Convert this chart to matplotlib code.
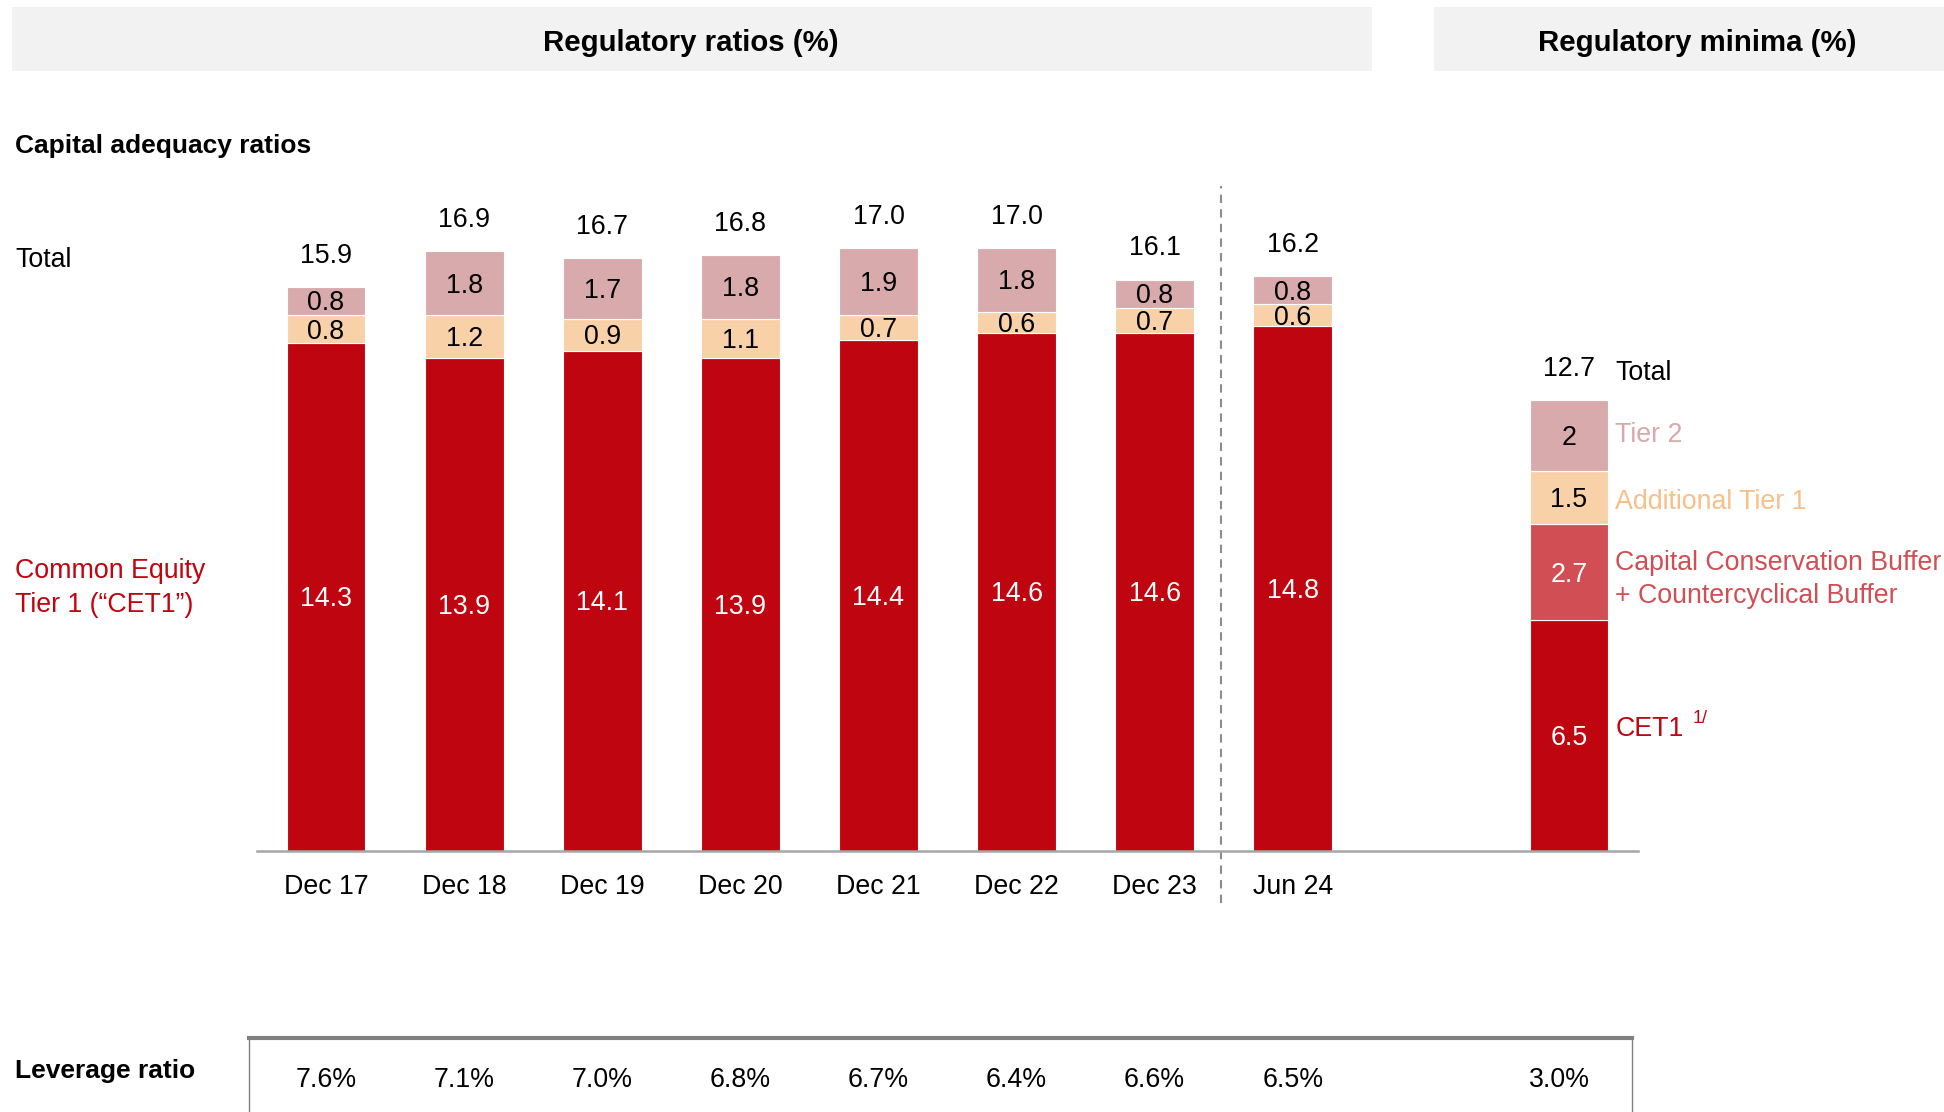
import matplotlib
matplotlib.use('Agg')
import matplotlib.pyplot as plt
from matplotlib.patches import Rectangle

plt.rcParams['font.family'] = ['Liberation Sans', 'DejaVu Sans']

# data
periods = ['Dec 17', 'Dec 18', 'Dec 19', 'Dec 20', 'Dec 21', 'Dec 22', 'Dec 23', 'Jun 24']
cet1 = [14.3, 13.9, 14.1, 13.9, 14.4, 14.6, 14.6, 14.8]
at1 = [0.8, 1.2, 0.9, 1.1, 0.7, 0.6, 0.7, 0.6]
tier2 = [0.8, 1.8, 1.7, 1.8, 1.9, 1.8, 0.8, 0.8]
totals = [15.9, 16.9, 16.7, 16.8, 17.0, 17.0, 16.1, 16.2]
leverage = [7.6, 7.1, 7.0, 6.8, 6.7, 6.4, 6.6, 6.5]

min_parts = ['CET1', 'Buffer', 'AT1', 'Tier 2']
min_values = [6.5, 2.7, 1.5, 2.0]
min_labels = ['6.5', '2.7', '1.5', '2']
min_total = 12.7
min_leverage = 3.0

RED = '#BF0510'
BUF = '#D14F54'
PEACH = '#F9D1A9'
PINK = '#D9AAAB'
W, H = 1944, 1112
FS = 19.3
DY = -0.07  # small nudge so text sits like the original


def fpos(x, y):
    return x / W, 1 - y / H


fig = plt.figure(figsize=(W / 100, H / 100), dpi=100)

# header bars
for x0, x1, title in [(12, 1372, 'Regulatory ratios (%)'),
                      (1434, 1944, 'Regulatory minima (%)')]:
    fig.patches.append(Rectangle(fpos(x0, 71), (x1 - x0) / W, 64 / H,
                                 transform=fig.transFigure,
                                 facecolor='#F2F2F2', edgecolor='none'))
fig.text(*fpos(691, 43), 'Regulatory ratios (%)', ha='center', va='center',
         fontsize=21.2, fontweight='bold')
fig.text(*fpos(1697, 43), 'Regulatory minima (%)', ha='center', va='center',
         fontsize=21.2, fontweight='bold')

fig.text(*fpos(15, 146), 'Capital adequacy ratios', ha='left', va='center',
         fontsize=19, fontweight='bold')
fig.text(*fpos(15, 260), 'Total', ha='left', va='center', fontsize=FS)
fig.text(*fpos(15, 588), 'Common Equity\nTier 1 (\u201cCET1\u201d)', ha='left',
         va='center', fontsize=FS, color=RED, linespacing=1.38)
fig.text(*fpos(15, 1071), 'Leverage ratio', ha='left', va='center',
         fontsize=19, fontweight='bold')

ax = fig.add_axes([257 / W, 1 - 850.5 / H, 1381 / W, 666.6 / H])
ax.set_xlim(-0.5, 9.5)
ax.set_ylim(0, 18.8)
for s in ['top', 'right', 'left']:
    ax.spines[s].set_visible(False)
ax.spines['bottom'].set_color('#A6A6A6')
ax.spines['bottom'].set_linewidth(1.8)
ax.set_yticks([])
ax.set_xticks([])

bw = 0.57
xs = list(range(len(periods)))
ax.bar(xs, cet1, bw, color=RED, edgecolor='white', linewidth=0.8)
ax.bar(xs, at1, bw, bottom=cet1, color=PEACH, edgecolor='white', linewidth=0.8)
b2 = [c + a for c, a in zip(cet1, at1)]
ax.bar(xs, tier2, bw, bottom=b2, color=PINK, edgecolor='white', linewidth=0.8)

for x, c, a, t, tot, p in zip(xs, cet1, at1, tier2, totals, periods):
    ax.text(x, c / 2 + DY, f'{c:.1f}', ha='center', va='center', color='white', fontsize=FS)
    ax.text(x, c + a / 2 + DY, f'{a:.1f}', ha='center', va='center', fontsize=FS)
    ax.text(x, c + a + t / 2 + DY, f'{t:.1f}', ha='center', va='center', fontsize=FS)
    ax.text(x, tot + 0.95 + DY, f'{tot:.1f}', ha='center', va='center', fontsize=FS)
    ax.text(x, -0.95 + DY, p, ha='center', va='center', fontsize=FS, clip_on=False)

# regulatory minima bar
mx = 9
min_colors = [RED, BUF, PEACH, PINK]
min_text_colors = ['white', 'white', 'black', 'black']
bottom = 0
for v, lab, col, tc in zip(min_values, min_labels, min_colors, min_text_colors):
    ax.bar(mx, v, bw, bottom=bottom, color=col, edgecolor='white', linewidth=0.8)
    ax.text(mx, bottom + v / 2 + DY, lab, ha='center', va='center', color=tc, fontsize=FS)
    bottom += v
ax.text(mx, min_total + 0.95 + DY, f'{min_total:.1f}', ha='center', va='center', fontsize=FS)

lx = mx + bw / 2 + 0.05
ax.text(lx, 13.55 + DY, 'Total', ha='left', va='center', fontsize=FS, clip_on=False)
ax.text(lx, 11.8 + DY, 'Tier 2', ha='left', va='center', fontsize=FS,
        color='#D9A9AA', clip_on=False)
ax.text(lx, 9.9 + DY, 'Additional Tier 1', ha='left', va='center', fontsize=FS,
        color='#F8BF88', clip_on=False)
ax.text(lx, 7.72 + DY, 'Capital Conservation Buffer\n+ Countercyclical Buffer',
        ha='left', va='center', fontsize=FS, color=BUF, linespacing=1.35,
        clip_on=False)
ax.text(lx, 3.5 + DY, 'CET1', ha='left', va='center', fontsize=FS, color=RED,
        clip_on=False)
ax.annotate('1/', xy=(lx, 3.5), xytext=(56, 6), textcoords='offset points',
            ha='left', va='center', fontsize=13, color=RED, annotation_clip=False)

# divider between year ends and interim
ax.plot([6.48, 6.48], [-1.48, 18.75], color='#8C8C8C', linestyle=(0, (4, 3)),
        linewidth=1.5, clip_on=False)

# leverage ratio box
box_y = -5.28
ax.plot([-0.56, 9.46], [box_y, box_y], color='#808080', linewidth=3, clip_on=False)
ax.plot([-0.56, -0.56], [box_y, -8], color='#808080', linewidth=1, clip_on=False)
ax.plot([9.46, 9.46], [box_y, -8], color='#808080', linewidth=1, clip_on=False)
for x, v in zip(xs, leverage):
    ax.text(x, -6.4 + DY, f'{v:.1f}%', ha='center', va='center', fontsize=FS, clip_on=False)
ax.text(mx - 0.07, -6.4 + DY, f'{min_leverage:.1f}%', ha='center', va='center',
        fontsize=FS, clip_on=False)

fig.savefig('out.png', dpi=100)
